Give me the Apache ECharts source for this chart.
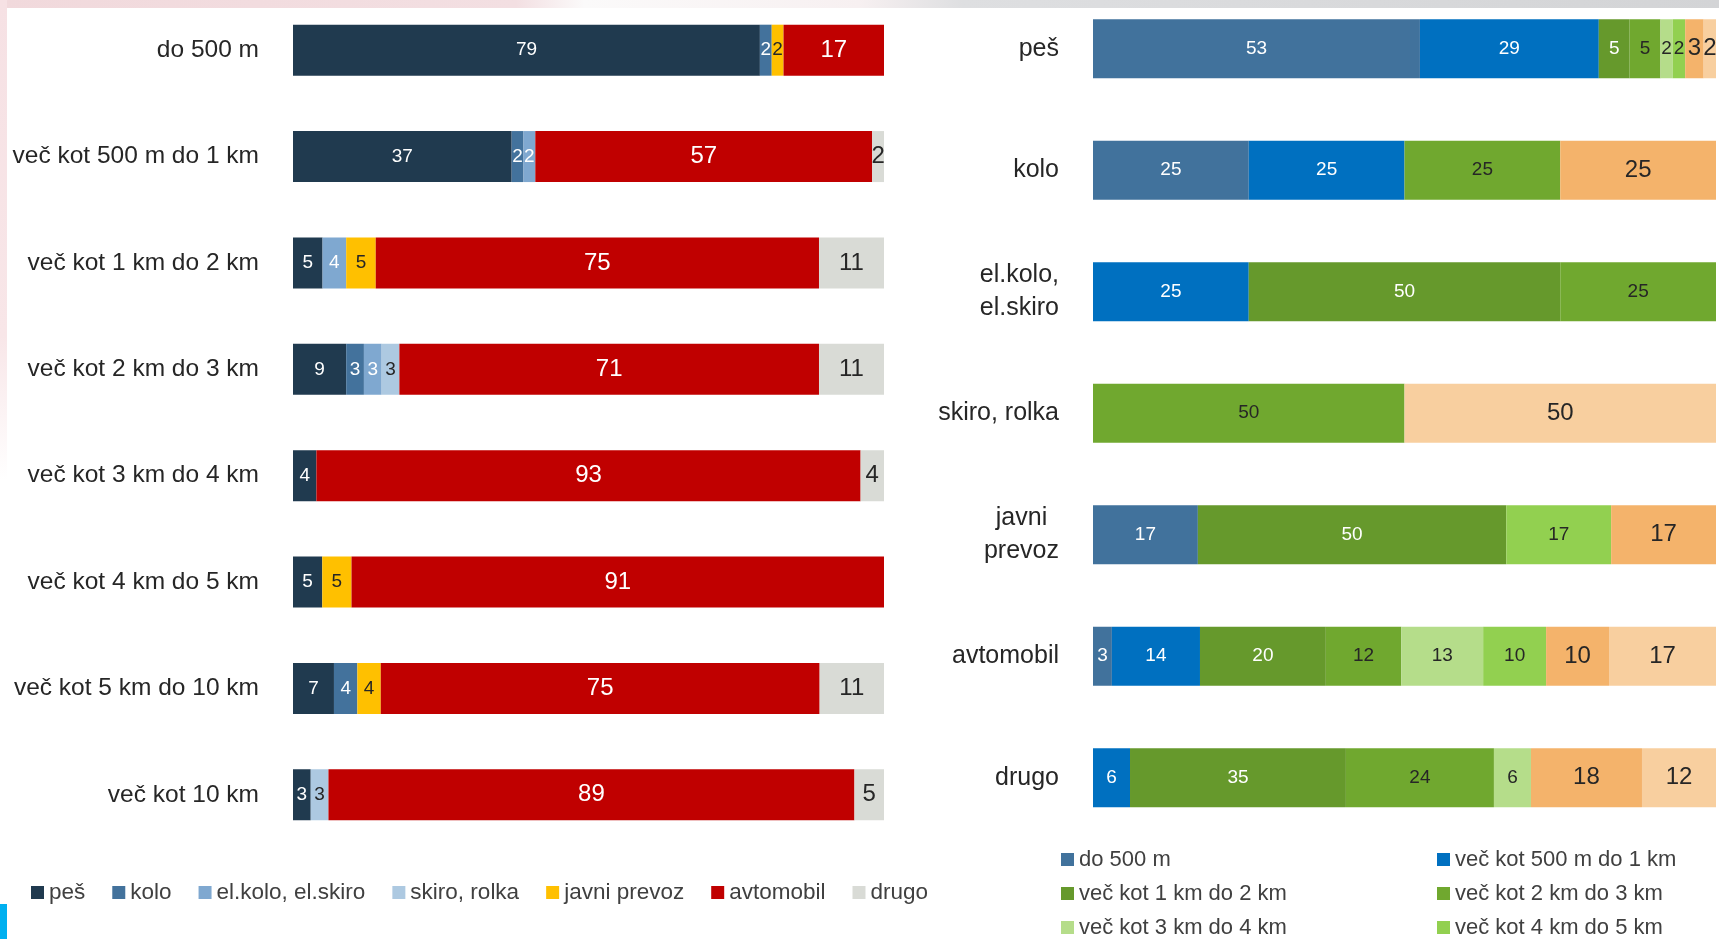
<!DOCTYPE html>
<html><head><meta charset="utf-8">
<script src="https://cdn.jsdelivr.net/npm/echarts@6/dist/echarts.min.js"></script>
<style>html,body{margin:0;padding:0;background:#fff;overflow:hidden}#c{width:1719px;height:939px}</style>
</head><body><div id="c"></div>
<script>
// ---------- LEFT CHART DATA (rows: distance, series: transport mode) ----------
const distanceCategories = ['do 500 m','več kot 500 m do 1 km','več kot 1 km do 2 km','več kot 2 km do 3 km','več kot 3 km do 4 km','več kot 4 km do 5 km','več kot 5 km do 10 km','več kot 10 km'];
const modeNames = ['peš','kolo','el.kolo, el.skiro','skiro, rolka','javni prevoz','avtomobil','drugo'];
const pes    = [79,37, 5, 9, 4, 5, 7, 3];
const kolo   = [ 2, 2, 0, 3, 0, 0, 4, 0];
const elKolo = [ 0, 2, 4, 3, 0, 0, 0, 0];
const skiro  = [ 0, 0, 0, 3, 0, 0, 0, 3];
const javni  = [ 2, 0, 5, 0, 0, 5, 4, 0];
const avto   = [17,57,75,71,93,91,75,89];
const drugo  = [ 0, 2,11,11, 4, 0,11, 5];

// ---------- RIGHT CHART DATA (rows: transport mode, series: distance) ----------
const modeCategories = ['peš','kolo','el.kolo,\nel.skiro','skiro, rolka','javni\nprevoz','avtomobil','drugo'];
const distNames = ['do 500 m','več kot 500 m do 1 km','več kot 1 km do 2 km','več kot 2 km do 3 km','več kot 3 km do 4 km','več kot 4 km do 5 km','več kot 5 km do 10 km','več kot 10 km'];
const d0_500  = [53,25, 0, 0,17, 3, 0];
const d500_1  = [29,25,25, 0, 0,14, 6];
const d1_2    = [ 5, 0,50, 0,50,20,35];
const d2_3    = [ 5,25,25,50, 0,12,24];
const d3_4    = [ 2, 0, 0, 0, 0,13, 6];
const d4_5    = [ 2, 0, 0, 0,17,10, 0];
const d5_10   = [ 3,25, 0, 0,17,10,18];
const d10plus = [ 2, 0, 0,50, 0,17,12];

// ---------- styles ----------
const FONT = '"Liberation Sans", Arial, sans-serif';
const leftColors = ['#203a4f','#43729c','#7fa8d0','#adc9e1','#ffc000','#c00000','#d9dbd6'];
const leftLabelColors = ['#ffffff','#ffffff','#ffffff','#262626','#262626','#ffffff','#262626'];
const leftLabelSizes = [19,19,19,19,19,24,24];
const rightColors = ['#41729c','#0070c0','#66992c','#70a82f','#b5dd8a','#92d050','#f4b36b','#f8cf9f'];
const rightLabelColors = ['#ffffff','#ffffff','#ffffff','#262626','#262626','#262626','#262626','#262626'];
const rightLabelSizes = [19,19,19,19,19,19,24,24];

const leftSeriesValues = [pes,kolo,elKolo,skiro,javni,avto,drugo];
const rightSeriesValues = [d0_500,d500_1,d1_2,d2_3,d3_4,d4_5,d5_10,d10plus];

function totals(list, n){ const t=[]; for(let i=0;i<n;i++){ t.push(list.reduce((s,a)=>s+a[i],0)); } return t; }
const leftTotals = totals(leftSeriesValues, distanceCategories.length);
const rightTotals = totals(rightSeriesValues, modeCategories.length);

function makeSeries(list, names, tot, colors, lc, ls, stack, idx, bw){
  return list.map((arr,k)=>({
    name: names[k], type:'bar', stack: stack, xAxisIndex: idx, yAxisIndex: idx, barWidth: bw,
    itemStyle:{color: colors[k]},
    emphasis:{disabled:true},
    label:{show:true, position:'inside', color: lc[k], fontSize: ls[k], fontFamily: FONT,
      formatter: p => arr[p.dataIndex] ? String(arr[p.dataIndex]) : ''},
    data: arr.map((v,i)=> v/tot[i]*100)
  }));
}

const chart = echarts.init(document.getElementById('c'), null, {renderer:'canvas'});
const legendCommon = {padding:0, itemWidth:13, itemHeight:13, icon:'rect', selectedMode:false,
  textStyle:{fontSize:22, lineHeight:22, color:'#404040', fontFamily: FONT}};

chart.setOption({
  animation:false,
  backgroundColor:'#ffffff',
  textStyle:{fontFamily: FONT},
  graphic:[
    {type:'rect', left:0, top:0, shape:{width:1719, height:8}, z:-10, style:{fill:new echarts.graphic.LinearGradient(0,0,1,0,[
      {offset:0,color:'#f1d9dc'},{offset:0.3,color:'#f3dfe2'},{offset:0.34,color:'#fbfafa'},{offset:0.5,color:'#f7f0f1'},{offset:0.56,color:'#dedfe1'},{offset:1,color:'#d3d4d6'}])}},
    {type:'rect', left:0, top:0, shape:{width:7, height:480}, z:-10, style:{fill:new echarts.graphic.LinearGradient(0,0,0,1,[
      {offset:0,color:'#f6e1e4'},{offset:0.7,color:'#f8e6e8'},{offset:1,color:'#ffffff'}])}},
    {type:'rect', left:0, top:904, shape:{width:7, height:35}, z:-10, style:{fill:'#00b0f0'}}
  ],
  grid:[
    {left:293, right:835, top:-3, height:851, outerBoundsMode:'none', containLabel:false},
    {left:1093, right:3, top:-12, height:850.5, outerBoundsMode:'none', containLabel:false}
  ],
  xAxis:[
    {gridIndex:0, type:'value', min:0, max:100, show:false, splitLine:{show:false}},
    {gridIndex:1, type:'value', min:0, max:100, show:false, splitLine:{show:false}}
  ],
  yAxis:[
    {gridIndex:0, type:'category', data: distanceCategories, inverse:true,
      axisLine:{show:false}, axisTick:{show:false}, splitLine:{show:false},
      axisLabel:{margin:34, fontSize:24.5, color:'#262626', fontFamily: FONT}},
    {gridIndex:1, type:'category', data: modeCategories, inverse:true,
      axisLine:{show:false}, axisTick:{show:false}, splitLine:{show:false},
      axisLabel:{margin:34, color:'#262626', fontFamily: FONT,
        formatter: v => v.split('\n').map(s => '{c|' + s + '}').join('\n'),
        rich:{c:{align:'center', fontSize:25, lineHeight:33, color:'#262626', fontFamily: FONT}}}}
  ],
  legend:[
    Object.assign({}, legendCommon, {data: modeNames, orient:'horizontal', left:31, top:881, itemGap:27, width:1000,
      textStyle:{fontSize:22.5, lineHeight:22, color:'#404040', fontFamily: FONT}}),
    Object.assign({}, legendCommon, {data:[distNames[0],distNames[2],distNames[4],distNames[6]], orient:'vertical', left:1061, top:848.5, itemGap:12, height:300}),
    Object.assign({}, legendCommon, {data:[distNames[1],distNames[3],distNames[5],distNames[7]], orient:'vertical', left:1437, top:848.5, itemGap:12, height:300})
  ],
  series: [].concat(
    makeSeries(leftSeriesValues, modeNames, leftTotals, leftColors, leftLabelColors, leftLabelSizes, 'L', 0, 51),
    makeSeries(rightSeriesValues, distNames, rightTotals, rightColors, rightLabelColors, rightLabelSizes, 'R', 1, 59)
  )
});
</script>
</body></html>
